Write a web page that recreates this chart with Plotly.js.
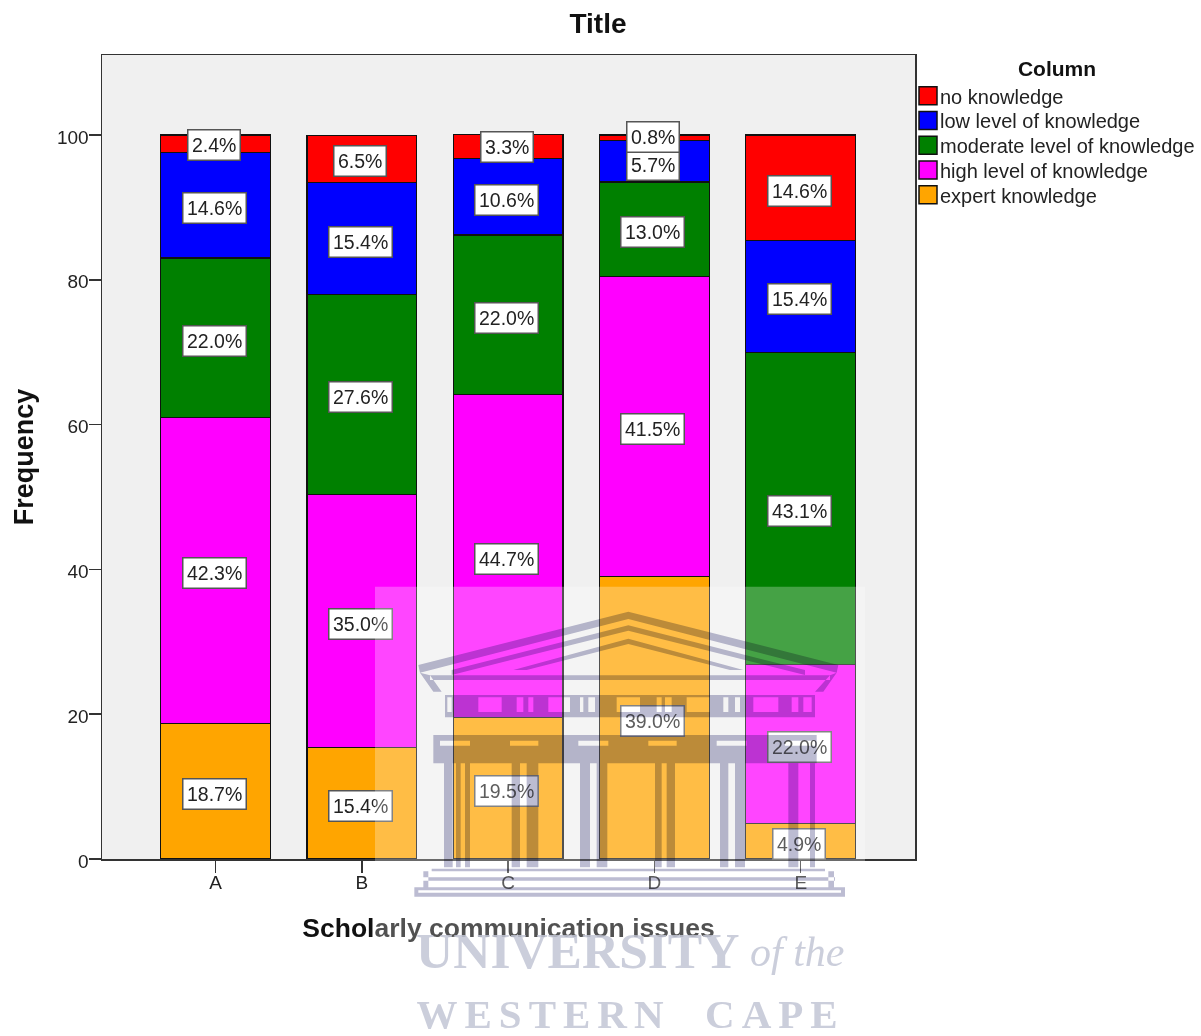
<!DOCTYPE html>
<html>
<head>
<meta charset="utf-8">
<script src="https://cdn.plot.ly/plotly-3.0.1.min.js"></script>
<style>html,body{margin:0;padding:0;background:#fff;overflow:hidden}</style>
</head>
<body>
<div id="chart" style="width:1201px;height:1036px"></div>
<script>
const categories = ['A','B','C','D','E'];
const expert   = [18.7,15.4,19.5,39.0,4.9];
const high     = [42.3,35.0,44.7,41.5,22.0];
const moderate = [22.0,27.6,22.0,13.0,43.1];
const low      = [14.6,15.4,10.6,5.7,15.4];
const none     = [2.4,6.5,3.3,0.8,14.6];
const seriesNames = ['expert knowledge','high level of knowledge','moderate level of knowledge','low level of knowledge','no knowledge'];
const seriesColors = ['#ffa500','#ff00ff','#008000','#0000ff','#ff0000'];
const seriesValues = [expert,high,moderate,low,none];

const L=102,R=915,T=55,B=859;
const fx=z=>((370+z/3)-L)/(R-L);
const fy=z=>(B-(580+z/3))/(B-T);
function sub(pts){return 'M'+pts.map(p=>fx(p[0])+','+fy(p[1])).join('L')+'Z';}
function rect(a,b,c,d){return sub([[a,b],[c,b],[c,d],[a,d]]);}

const traces = seriesNames.map((n,i)=>({
  type:'bar',name:n,x:categories,y:seriesValues[i],width:0.75,
  marker:{color:seriesColors[i],line:{color:'#111',width:1.2}},
  hoverinfo:'skip'
}));

const labelShift = {'0-4':-1,'2-4':-1,'1-4':-2,'3-3':-4,'3-4':1};
const annotations=[];
categories.forEach((c,ci)=>{
  let base=0;
  seriesValues.forEach((s,si)=>{
    const v=s[ci];
    const key=ci+'-'+si;
    annotations.push({x:c,y:base+v/2,xref:'x',yref:'y',text:v.toFixed(1)+'%',showarrow:false,
      font:{family:'Liberation Sans',size:19.5,color:'#222'},bgcolor:'#fff',bordercolor:'#555',borderwidth:1.5,borderpad:3.5,
      xshift:-1.5,yshift:(key in labelShift)?labelShift[key]:-3});
    base+=v;
  });
});
const wmFont='Liberation Serif';
const wmColor='rgba(172,176,198,0.85)';
annotations.push({xref:'paper',yref:'paper',x:fx(133),y:fy(1110),xanchor:'left',yanchor:'middle',showarrow:false,text:'<b>UNIVERSITY</b>',
  font:{family:wmFont,size:51.5,color:wmColor}});
annotations.push({xref:'paper',yref:'paper',x:fx(1135),y:fy(1115),xanchor:'left',yanchor:'middle',showarrow:false,text:'<i>of the</i>',
  font:{family:wmFont,size:42,color:wmColor}});
annotations.push({xref:'paper',yref:'paper',x:fx(269),y:fy(1303),xanchor:'left',yanchor:'middle',showarrow:false,text:'<b>WESTERN  CAPE</b>',
  font:{family:wmFont,size:41,color:wmColor}});

const veil={type:'rect',xref:'paper',yref:'paper',x0:fx(15),x1:fx(1485),y0:fy(20),y1:fy(1368),fillcolor:'rgba(255,255,255,0.27)',line:{width:0},layer:'above'};

let bp='';
bp+=sub([[775,95],[145,255],[150,278],[775,117],[1400,278],[1405,255]]);
bp+=sub([[775,136],[245,270],[245,285],[775,152],[1305,285],[1305,270]]);
bp+=sub([[775,176],[430,270],[470,270],[775,192],[1080,270],[1120,270]]);
bp+=rect(180,286,1380,300);
bp+=sub([[150,278],[190,335],[215,335],[180,286]]);
bp+=sub([[1400,278],[1360,335],[1335,335],[1380,286]]);
bp+=rect(225,345,1335,412);
[[232,245],[325,395],[440,460],[475,490],[535,600],[630,640],[655,675],[740,810],[860,875],[885,905],[950,1020],[1060,1075],[1095,1110],[1150,1225],[1265,1285],[1300,1325]].forEach(w=>{bp+=rect(w[0],352,w[1],396);});
bp+=rect(190,465,1340,550);
[[210,300],[420,505],[625,715],[835,920],[1040,1130],[1245,1335]].forEach(w=>{bp+=rect(w[0],482,w[1],497);});
[[222,248],[258,272],[285,300],[425,450],[470,505],[630,660],[680,712],[855,875],[890,915],[1050,1075],[1095,1125],[1255,1285],[1320,1335]].forEach(w=>{bp+=rect(w[0],550,w[1],862);});
bp+=rect(185,866,1365,874);
bp+=rect(160,892,1395,902);
bp+=sub([[133,922],[1425,922],[1425,950],[133,950]])+rect(145,931,1413,938);
bp+=rect(160,874,175,922);bp+=rect(1375,874,1392,922);

const building={type:'path',xref:'paper',yref:'paper',path:bp,fillcolor:'rgb(188,188,210)',line:{width:0},layer:'above',fillrule:'evenodd'};

const layout={
  width:1201,height:1036,
  margin:{l:L,r:1201-R,t:T,b:1036-B,autoexpand:false},
  paper_bgcolor:'#fff',plot_bgcolor:'#f0f0f0',
  barmode:'stack',bargap:0.25,
  font:{family:'Liberation Sans',color:'#222'},
  title:{text:'<b>Title</b>',x:598/1201,xanchor:'center',y:1-23/1036,yanchor:'middle',font:{family:'Liberation Sans',size:28,color:'#111'}},
  xaxis:{type:'category',range:[-0.776,4.781],showline:true,mirror:true,linecolor:'#333',linewidth:1.5,ticks:'outside',ticklen:12,tickwidth:1.5,tickcolor:'#333',ticklabelstandoff:-6,
    tickfont:{size:19,color:'#222'},title:{text:'<b>Scholarly communication issues</b>',standoff:26,font:{size:26.5,color:'#111'}},fixedrange:true},
  yaxis:{range:[0,111.05],tickvals:[0,20,40,60,80,100],showline:true,mirror:true,linecolor:'#333',linewidth:1.5,ticks:'outside',ticklen:12,tickwidth:1.5,tickcolor:'#333',ticklabelstandoff:-4,showgrid:false,zeroline:false,
    tickfont:{size:19,color:'#222'},title:{text:'<b>Frequency</b>',standoff:15,font:{size:27,color:'#111'}},fixedrange:true},
  legend:{x:(900-L)/(R-L),xanchor:'left',y:(B-49)/(B-T),yanchor:'top',traceorder:'reversed',bgcolor:'rgba(0,0,0,0)',
    font:{size:20,color:'#222'},title:{text:'<b>Column</b>',side:'top center',font:{size:21,color:'#111'}}},
  showlegend:true,
  annotations:annotations,
  shapes:[veil,building]
};
Plotly.newPlot('chart',traces,layout,{displayModeBar:false,staticPlot:true}).then(gd=>{
  document.querySelectorAll('.legendpoints path').forEach(p=>{
    p.setAttribute('d','M17,9H-1V-9H17Z');
    p.style.stroke='#111';p.style.strokeWidth='1.5px';
  });
  const rows=[...gd.querySelectorAll('.legend .traces')];
  if(rows.length){
    const parse=t=>{const m=/translate\(([-\d.]+)[ ,]+([-\d.]+)\)/.exec(t||'');return m?[+m[1],+m[2]]:[0,0];};
    const first=parse(rows[0].getAttribute('transform'));
    rows.forEach((r,i)=>{
      const p=parse(r.getAttribute('transform'));
      r.setAttribute('transform','translate('+p[0]+','+(first[1]+i*24.75)+')');
    });
  }
  const lt=gd.querySelector('.legendtitletext');
  if(lt){lt.setAttribute('transform','translate(7,0)');}
  gd.querySelectorAll('.ytick text').forEach(t=>{t.setAttribute('y',(+t.getAttribute('y'))+2);});
  gd.querySelectorAll('.annotation').forEach(a=>{
    const t=a.querySelector('text');
    if(t&&t.textContent.indexOf('WESTERN')===0){t.style.letterSpacing='7px';}
  });
  const info=gd.querySelector('.infolayer'), above=gd.querySelector('.layer-above');
  if(info&&above&&info.parentNode===above.parentNode){info.parentNode.insertBefore(above,info.nextSibling);}
  const paths=gd.querySelectorAll('.layer-above .shapelayer path');
  if(paths.length>1){paths[1].style.mixBlendMode='multiply';}
});
</script>
</body>
</html>
